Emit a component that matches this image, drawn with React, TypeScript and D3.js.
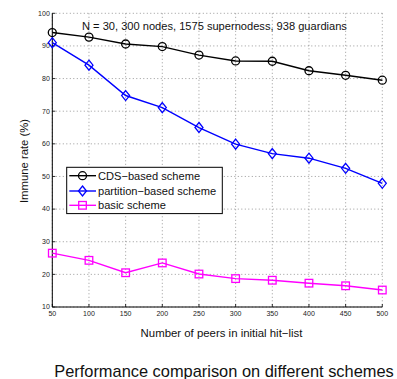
import React from "react";
import * as d3 from "d3";

const peers = [50, 100, 150, 200, 250, 300, 350, 400, 450, 500];
const cdsValues = [94.1, 92.7, 90.6, 89.8, 87.2, 85.4, 85.3, 82.4, 81.0, 79.5];
const partitionValues = [91.0, 84.1, 74.8, 71.1, 65.0, 59.9, 57.0, 55.6, 52.5, 47.9];
const basicValues = [26.5, 24.3, 20.5, 23.5, 20.1, 18.7, 18.2, 17.3, 16.5, 15.2];
const yTicks = [10, 20, 30, 40, 50, 60, 70, 80, 90, 100];
const seriesNames = ["CDS\u2212based scheme", "partition\u2212based scheme", "basic scheme"];

const W = 397, H = 379;
const left = 52.3, right = 382.3, top = 13.3, bottom = 307;
const font = "Liberation Sans, Arial, Helvetica, sans-serif";

function Marker({ kind, x, y, color }: { kind: string; x: number; y: number; color: string }) {
  if (kind === "circle") return <circle cx={x} cy={y} r={4} fill="none" stroke={color} strokeWidth={1.3} />;
  if (kind === "diamond")
    return <path d={`M${x},${y - 5}L${x + 4},${y}L${x},${y + 5}L${x - 4},${y}Z`} fill="none" stroke={color} strokeWidth={1.3} />;
  return <rect x={x - 3.8} y={y - 3.8} width={7.6} height={7.6} fill="none" stroke={color} strokeWidth={1.3} />;
}

export default function App() {
  const x = d3.scaleLinear().domain([50, 500]).range([left, right]);
  const y = d3.scaleLinear().domain([10, 100]).range([bottom, top]);
  const series = [
    { name: seriesNames[0], values: cdsValues, color: "#000000", kind: "circle" },
    { name: seriesNames[1], values: partitionValues, color: "#0000ff", kind: "diamond" },
    { name: seriesNames[2], values: basicValues, color: "#ff00ff", kind: "square" },
  ];
  const line = d3.line<number>().x((_, i) => x(peers[i])).y((v) => y(v));
  const legendRows = [175.7, 191, 205.3];
  return (
    <svg width={W} height={H} style={{ position: "absolute", left: 0, top: 0, background: "#fff" }} fontFamily={font}>
      {/* grid */}
      {peers.map((p) => (
        <line key={"gx" + p} x1={x(p)} x2={x(p)} y1={top} y2={bottom} stroke="#555" strokeWidth={0.6} strokeDasharray="1,2.5" />
      ))}
      {yTicks.map((t) => (
        <line key={"gy" + t} x1={left} x2={right} y1={y(t)} y2={y(t)} stroke="#555" strokeWidth={0.6} strokeDasharray="1,2.5" />
      ))}
      {/* axes */}
      <line x1={left} x2={left} y1={top} y2={bottom} stroke="#000" strokeWidth={1} />
      <line x1={left} x2={right} y1={bottom} y2={bottom} stroke="#000" strokeWidth={1} />
      {peers.map((p) => (
        <g key={"tx" + p}>
          <line x1={x(p)} x2={x(p)} y1={bottom} y2={bottom - 3} stroke="#000" strokeWidth={0.8} />
          <text x={x(p)} y={bottom + 8.5} fontSize={7} textAnchor="middle" fill="#222">{p}</text>
        </g>
      ))}
      {yTicks.map((t) => (
        <g key={"ty" + t}>
          <line x1={left} x2={left + 3} y1={y(t)} y2={y(t)} stroke="#000" strokeWidth={0.8} />
          <text x={left - 2.5} y={y(t) + 2.3} fontSize={7} textAnchor="end" fill="#222">{t}</text>
        </g>
      ))}
      {/* series */}
      {series.map((s) => (
        <g key={s.name}>
          <path d={line(s.values) || ""} fill="none" stroke={s.color} strokeWidth={1.4} />
          {s.values.map((v, i) => (
            <Marker key={i} kind={s.kind} x={x(peers[i])} y={y(v)} color={s.color} />
          ))}
        </g>
      ))}
      {/* annotation */}
      <text x={82} y={30} fontSize={11.1} fill="#111">N = 30, 300 nodes, 1575 supernodess, 938 guardians</text>
      {/* legend */}
      <rect x={66.7} y={167.3} width={155.6} height={46.3} fill="#fff" stroke="#000" strokeWidth={1} />
      {series.map((s, i) => (
        <g key={"lg" + i}>
          <line x1={69.3} x2={96} y1={legendRows[i]} y2={legendRows[i]} stroke={s.color} strokeWidth={1.4} />
          <Marker kind={s.kind} x={82.5} y={legendRows[i]} color={s.color} />
          <text x={98} y={legendRows[i] + 4} fontSize={11.1} fill="#111">{s.name}</text>
        </g>
      ))}
      {/* axis labels */}
      <text x={221.5} y={336.5} fontSize={11.4} textAnchor="middle" fill="#111">Number of peers in initial hit{"\u2212"}list</text>
      <text transform={`translate(28,161) rotate(-90)`} fontSize={11.3} textAnchor="middle" fill="#111">Immune rate (%)</text>
      <text x={224} y={377} fontSize={16.4} textAnchor="middle" fill="#111">Performance comparison on different schemes</text>
    </svg>
  );
}
